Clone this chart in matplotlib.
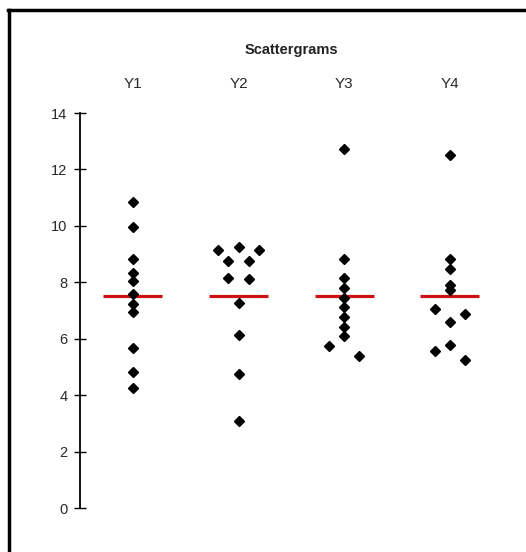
import matplotlib
matplotlib.use("Agg")
import matplotlib.pyplot as plt
from matplotlib.lines import Line2D

plt.rcParams['font.family'] = ['Liberation Sans', 'DejaVu Sans']

# Anscombe's quartet, response values
categories = ["Y1", "Y2", "Y3", "Y4"]
y1 = [8.04, 6.95, 7.58, 8.81, 8.33, 9.96, 7.24, 4.26, 10.84, 4.82, 5.68]
y2 = [9.14, 8.14, 8.74, 8.77, 9.26, 8.10, 6.13, 3.10, 9.13, 7.26, 4.74]
y3 = [7.46, 6.77, 12.74, 7.11, 7.81, 8.84, 6.08, 5.39, 8.15, 6.42, 5.73]
y4 = [6.58, 5.76, 7.71, 8.84, 8.47, 7.04, 5.25, 12.50, 5.56, 7.91, 6.89]
series = [y1, y2, y3, y4]
y_ticks = [0, 2, 4, 6, 8, 10, 12, 14]

# horizontal dodge slots so that close points do not overlap
dodge = [
    [0] * 11,
    [-2, -1, -1, 1, 0, 1, 0, 0, 2, 0, 0],
    [0, 0, 0, 0, 0, 0, 0, 1.5, 0, 0, -1.5],
    [0, 0, 0, 0, 0, -1.5, 1.5, 0, -1.5, 0, 1.5],
]
slot_w = 0.095

fig = plt.figure(figsize=(5.26, 5.52), dpi=100)
ax = fig.add_axes([80 / 526, 44 / 552, 446 / 526, 395 / 552])

for i, (vals, dd) in enumerate(zip(series, dodge)):
    xpos = i + 1
    xs = [xpos + d * slot_w for d in dd]
    ax.plot(xs, vals, linestyle='none', marker='D', markersize=5.0,
            color='black', zorder=3, clip_on=False)
    m = sum(vals) / len(vals)
    ax.plot([xpos - 0.28, xpos + 0.28], [m, m], color='#cc1111',
            linewidth=2.3, solid_capstyle='butt', zorder=2)
    ax.text(xpos, 1.0 + 29 / 395, categories[i], transform=ax.get_xaxis_transform(),
            ha='center', va='center', fontsize=11, color='#2a2a2a')

ax.text(2.5, 1.0 + 63 / 395, "Scattergrams", transform=ax.get_xaxis_transform(),
        ha='center', va='center', fontsize=10.5, fontweight='bold', color='#222222')

ax.set_xlim(0.5, 4.72)
ax.set_ylim(0, 14)
ax.set_yticks(y_ticks)
ax.set_xticks([])
for s in ['top', 'right', 'bottom']:
    ax.spines[s].set_visible(False)
ax.spines['left'].set_linewidth(1.3)
ax.tick_params(axis='y', direction='inout', length=8, width=1.0, pad=5,
               labelsize=10.5, labelcolor='#2a2a2a')

# outer frame (left and top edges)
fig.add_artist(Line2D([9.5 / 526, 9.5 / 526], [0, 1 - 9.5 / 552],
                      transform=fig.transFigure, color='black', linewidth=2.5))
fig.add_artist(Line2D([8.3 / 526, 1], [1 - 9.5 / 552, 1 - 9.5 / 552],
                      transform=fig.transFigure, color='black', linewidth=2.5))

fig.savefig("out.png", dpi=100)
